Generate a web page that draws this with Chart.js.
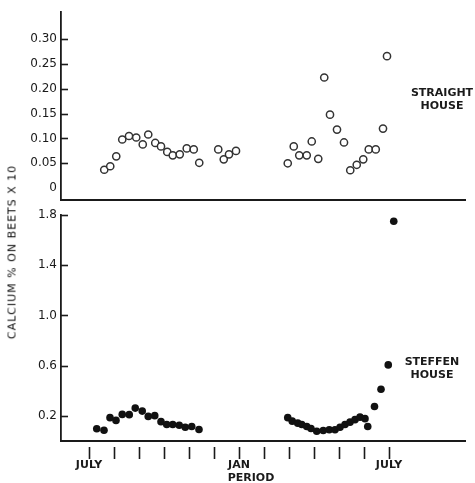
<!DOCTYPE html>
<html>
<head>
<meta charset="utf-8">
<script src="https://cdn.jsdelivr.net/npm/chart.js@4.4.0/dist/chart.umd.min.js"></script>
<style>
  body { margin: 0; background: #fff; }
  #wrap { position: relative; width: 475px; height: 483px; font-family: "DejaVu Sans", sans-serif; color: #1a1a1a; }
  canvas { position: absolute; left: 0; }
  .lbl { position: absolute; font-weight: bold; font-size: 11px; text-align: center; line-height: 13px; }
  #ytitle { position: absolute; left: 12px; top: 252px; transform: translate(-50%, -50%) rotate(-90deg);
            white-space: nowrap; font-size: 11px; letter-spacing: 1px; color: #111; }
</style>
</head>
<body>
<div id="wrap">
  <canvas id="arriba" width="475" height="205" style="top:0"></canvas>
  <canvas id="abajo" width="475" height="278" style="top:205px"></canvas>
  <div id="ytitle">CALCIUM % ON BEETS X 10</div>
  <div class="lbl" style="left:402px; top:86px; width:80px">STRAIGHT<br>HOUSE</div>
  <div class="lbl" style="left:392px; top:355px; width:80px">STEFFEN<br>HOUSE</div>
  <div class="lbl" style="left:211px; top:471px; width:80px">PERIOD</div>
</div>
<script>
// meses desde julio (0 = JULY, 6 = JAN, 12 = JULY)
const mesesStraight = [0.61, 0.85, 1.09, 1.33, 1.6, 1.89, 2.15, 2.37, 2.65, 2.88, 3.13, 3.35, 3.63, 3.91, 4.19, 4.41,
  5.17, 5.39, 5.6, 5.88,
  7.95, 8.19, 8.41, 8.71, 8.91, 9.17, 9.41, 9.64, 9.92, 10.2, 10.45, 10.71, 10.97, 11.19, 11.47, 11.76, 11.92];
const calcioStraight = [0.037, 0.044, 0.064, 0.098, 0.105, 0.102, 0.088, 0.108, 0.091, 0.084, 0.073, 0.066, 0.068, 0.080, 0.078, 0.051,
  0.078, 0.058, 0.068, 0.075,
  0.050, 0.084, 0.066, 0.066, 0.094, 0.059, 0.223, 0.148, 0.118, 0.092, 0.036, 0.047, 0.058, 0.078, 0.078, 0.120, 0.266];

const mesesSteffen = [0.31, 0.6, 0.84, 1.08, 1.33, 1.61, 1.85, 2.13, 2.37, 2.63, 2.88, 3.11, 3.35, 3.61, 3.85, 4.11, 4.4,
  7.95, 8.13, 8.35, 8.51, 8.71, 8.88, 9.11, 9.37, 9.61, 9.84, 10.04, 10.24, 10.44, 10.64, 10.84, 11.04, 11.15,
  11.42, 11.68, 11.97, 12.19];
const calcioSteffen = [0.098, 0.086, 0.186, 0.164, 0.212, 0.210, 0.262, 0.238, 0.196, 0.202, 0.154, 0.132, 0.132, 0.126, 0.110, 0.116, 0.092,
  0.186, 0.158, 0.142, 0.132, 0.116, 0.100, 0.078, 0.084, 0.090, 0.090, 0.110, 0.132, 0.150, 0.170, 0.190, 0.178, 0.116,
  0.275, 0.412, 0.606, 1.75];

const ticksStraight = [0, 0.05, 0.10, 0.15, 0.20, 0.25, 0.30];
const ticksSteffen = [0.2, 0.6, 1.0, 1.4, 1.8];
const marcasMes = [0, 1, 2, 3, 4, 5, 6, 7, 8, 9, 10, 11, 12];
const etiquetasMes = { 0: "JULY", 6: "JAN", 12: "JULY" };

const tinta = "#1a1a1a";

// marcas cortas hacia adentro en el eje y, y marcas de mes bajo el eje x
const marcasPlugin = {
  id: "marcas",
  afterDraw(chart, args, opts) {
    const ctx = chart.ctx;
    const y = chart.scales.y, x = chart.scales.x;
    ctx.save();
    ctx.strokeStyle = tinta;
    ctx.lineWidth = 1.6;
    opts.yTicks.forEach(v => {
      if (v === 0) return;
      const py = Math.round(y.getPixelForValue(v)) + 0.5;
      ctx.beginPath();
      ctx.moveTo(chart.chartArea.left, py);
      ctx.lineTo(chart.chartArea.left + 7, py);
      ctx.stroke();
    });
    if (opts.meses) {
      const b = chart.chartArea.bottom;
      opts.meses.forEach(m => {
        const px = Math.round(x.getPixelForValue(m)) + 0.5;
        ctx.beginPath();
        ctx.moveTo(px, b + 6);
        ctx.lineTo(px, b + 18);
        ctx.stroke();
      });
    }
    ctx.restore();
  }
};

function ejeY(min, max, valores, decimales) {
  return {
    type: "linear",
    min: min,
    max: max,
    afterFit: s => { s.width = 61; s.paddingTop = 0; s.paddingBottom = 0; },
    afterBuildTicks: s => { s.ticks = valores.map(v => ({ value: v })); },
    grid: { display: false, drawTicks: false },
    border: { display: true, color: tinta, width: 1.8 },
    ticks: {
      color: tinta,
      padding: 4,
      font: { family: "DejaVu Sans", size: 12 },
      callback: v => v === 0 ? "0" : v.toFixed(decimales)
    }
  };
}

new Chart(document.getElementById("arriba"), {
  type: "scatter",
  data: {
    datasets: [{
      data: mesesStraight.map((m, i) => ({ x: m, y: calcioStraight[i] })),
      pointStyle: "circle",
      pointRadius: 3.6,
      pointBorderWidth: 1.5,
      borderColor: "#333",
      backgroundColor: "#fff"
    }]
  },
  options: {
    responsive: false,
    animation: false,
    layout: { padding: { top: 12, right: 10, left: 0, bottom: 0 } },
    plugins: { legend: { display: false }, tooltip: { enabled: false }, marcas: { yTicks: ticksStraight } },
    scales: {
      x: {
        type: "linear", min: -1.12, max: 15.04,
        afterFit: s => { s.height = 4; },
        grid: { display: false, drawTicks: false },
        border: { display: true, color: tinta, width: 2 },
        ticks: { display: false }
      },
      y: ejeY(-0.023, 0.355, ticksStraight, 2)
    }
  },
  plugins: [marcasPlugin]
});

new Chart(document.getElementById("abajo"), {
  type: "scatter",
  data: {
    datasets: [{
      data: mesesSteffen.map((m, i) => ({ x: m, y: calcioSteffen[i] })),
      pointStyle: "circle",
      pointRadius: 3.8,
      pointBorderWidth: 0,
      borderColor: "#111",
      backgroundColor: "#111"
    }]
  },
  options: {
    responsive: false,
    animation: false,
    layout: { padding: { top: 10, right: 10, left: 0, bottom: 0 } },
    plugins: { legend: { display: false }, tooltip: { enabled: false }, marcas: { yTicks: ticksSteffen, meses: marcasMes } },
    scales: {
      x: {
        type: "linear", min: -1.12, max: 15.04,
        afterFit: s => { s.height = 42; },
        afterBuildTicks: s => { s.ticks = Object.keys(etiquetasMes).map(k => ({ value: Number(k) })); },
        grid: { display: false, drawTicks: false },
        border: { display: true, color: tinta, width: 2 },
        ticks: {
          color: tinta,
          padding: 18,
          maxRotation: 0,
          font: { family: "DejaVu Sans", size: 11, weight: "bold" },
          callback: v => etiquetasMes[v] || ""
        }
      },
      y: ejeY(0, 1.8, ticksSteffen, 1)
    }
  },
  plugins: [marcasPlugin]
});
</script>
</body>
</html>
